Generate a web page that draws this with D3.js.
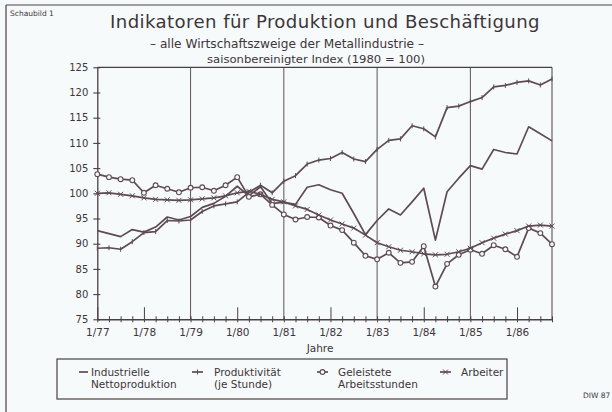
<!DOCTYPE html>
<html>
<head>
<meta charset="utf-8">
<script src="https://cdn.jsdelivr.net/npm/d3@7"></script>
<style>
  body { margin: 0; background: #f7fafb; }
  text { font-family: "DejaVu Sans", sans-serif; fill: #3d3539; }
</style>
</head>
<body>
<svg id="chart"></svg>
<script>
// Quarterly values, 1/77 .. 4/86 (1980 = 100)
const yearLabels = ['1/77', '1/78', '1/79', '1/80', '1/81', '1/82', '1/83', '1/84', '1/85', '1/86'];
const gridYears = ['1/79', '1/81', '1/83', '1/85'];
const yTicks = [75, 80, 85, 90, 95, 100, 105, 110, 115, 120, 125];

const nettoproduktion = [
  92.6, 92.0, 91.4, 92.8, 92.3, 93.3, 95.3, 94.7, 95.4, 97.2,
  98.0, 99.4, 101.4, 99.5, 101.3, 98.0, 98.2, 97.8, 101.2, 101.7,
  100.7, 100.0, 96.0, 91.8, 94.6, 96.9, 95.7, 98.3, 101.0, 90.7,
  100.3, 103.0, 105.5, 104.8, 108.7, 108.1, 107.8, 113.2, 111.8, 110.4,
];
const produktivitaet = [
  89.1, 89.2, 88.9, 90.4, 92.2, 92.4, 94.6, 94.5, 94.7, 96.4,
  97.5, 97.9, 98.3, 100.2, 101.6, 100.1, 102.4, 103.5, 105.8, 106.6,
  106.9, 108.1, 106.8, 106.3, 108.7, 110.5, 110.8, 113.4, 112.8, 111.2,
  117.0, 117.3, 118.2, 119.0, 121.1, 121.4, 122.0, 122.3, 121.5, 122.7,
];
const arbeitsstunden = [
  103.8, 103.2, 102.8, 102.6, 100.1, 101.6, 100.9, 100.2, 101.1, 101.2,
  100.5, 101.6, 103.2, 99.3, 99.8, 97.7, 95.8, 94.8, 95.3, 95.2,
  93.6, 92.7, 90.2, 87.6, 86.9, 88.2, 86.2, 86.4, 89.5, 81.5,
  86.0, 87.8, 88.8, 88.0, 89.7, 88.9, 87.4, 93.1, 92.1, 89.9,
];
const arbeiter = [
  100.0, 100.1, 99.8, 99.5, 99.1, 98.8, 98.7, 98.6, 98.7, 98.9,
  99.1, 99.5, 100.1, 100.4, 99.8, 98.8, 98.3, 97.5, 96.8, 95.7,
  94.7, 93.9, 93.1, 91.7, 90.2, 89.4, 88.7, 88.4, 88.0, 87.8,
  87.9, 88.4, 89.1, 90.2, 91.1, 91.9, 92.6, 93.5, 93.7, 93.5,
];

const ink = '#4a3f44';
const lineCol = '#5e4b52';

const width = 612;
const height = 412;
const plot = { left: 97.3, right: 552, top: 67.3, bottom: 319.3 };

const svg = d3.select('#chart')
  .attr('width', width)
  .attr('height', height)
  .style('display', 'block')
  .style('background', '#f7fafb');

const nQ = nettoproduktion.length;
const x = d3.scaleLinear().domain([0, nQ - 1]).range([plot.left, plot.right]);
const y = d3.scaleLinear().domain([75, 125]).range([plot.bottom, plot.top]);
const yearIdx = (lbl) => yearLabels.indexOf(lbl) * 4;

// outer frame (left + top edges visible in the scan)
svg.append('line').attr('x1', 6).attr('x2', 6).attr('y1', 5).attr('y2', 412)
  .attr('stroke', ink).attr('stroke-width', 1.2);
svg.append('line').attr('x1', 6).attr('x2', 612).attr('y1', 5).attr('y2', 5)
  .attr('stroke', ink).attr('stroke-width', 1.2);

// headings
svg.append('text').attr('x', 10).attr('y', 16).style('font-size', '7.5px').text('Schaubild 1');
svg.append('text').attr('x', 325).attr('y', 28).attr('text-anchor', 'middle')
  .style('font-size', '18px').style('letter-spacing', '0.4px')
  .attr('textLength', 430).attr('lengthAdjust', 'spacingAndGlyphs')
  .text('Indikatoren für Produktion und Beschäftigung');
svg.append('text').attr('x', 287).attr('y', 48).attr('text-anchor', 'middle')
  .style('font-size', '12.5px')
  .attr('textLength', 274).attr('lengthAdjust', 'spacingAndGlyphs')
  .text('– alle Wirtschaftszweige der Metallindustrie –');
svg.append('text').attr('x', 316).attr('y', 63).attr('text-anchor', 'middle')
  .style('font-size', '10px')
  .attr('textLength', 218).attr('lengthAdjust', 'spacingAndGlyphs')
  .text('saisonbereinigter Index (1980 = 100)');

// plot frame: top and right border
svg.append('line').attr('x1', plot.left).attr('x2', plot.right)
  .attr('y1', plot.top).attr('y2', plot.top).attr('stroke', ink).attr('stroke-width', 1.3);
svg.append('line').attr('x1', plot.right).attr('x2', plot.right)
  .attr('y1', plot.top).attr('y2', plot.bottom).attr('stroke', ink).attr('stroke-width', 1);

// vertical grid lines every two years
svg.append('g').selectAll('line').data(gridYears).join('line')
  .attr('x1', (d) => x(yearIdx(d))).attr('x2', (d) => x(yearIdx(d)))
  .attr('y1', plot.top).attr('y2', plot.bottom)
  .attr('stroke', ink).attr('stroke-width', 0.9);

// y axis
const yAxis = d3.axisLeft(y).tickValues(yTicks).tickSize(4).tickSizeOuter(0);
const yAxisG = svg.append('g').attr('transform', `translate(${plot.left},0)`).call(yAxis);
yAxisG.select('.domain').attr('stroke', ink).attr('stroke-width', 1.3);
yAxisG.selectAll('.tick line').attr('x1', 3).attr('stroke', ink).attr('stroke-width', 1.1);
yAxisG.selectAll('.tick text').attr('x', -9).style('font-size', '10px')
  .style('font-family', '"DejaVu Sans", sans-serif').attr('fill', '#3d3539');

// x axis: quarterly ticks, labels every year
const xAxis = d3.axisBottom(x)
  .tickValues(d3.range(nQ))
  .tickSize(3)
  .tickSizeOuter(0)
  .tickFormat((i) => (i % 4 === 0 ? yearLabels[i / 4] : ''));
const xAxisG = svg.append('g').attr('transform', `translate(0,${plot.bottom})`).call(xAxis);
xAxisG.select('.domain').attr('stroke', ink).attr('stroke-width', 1.6);
xAxisG.selectAll('.tick line')
  .attr('y1', (i) => (i % 4 === 0 && !gridYears.includes(yearLabels[i / 4]) ? -12 : -3))
  .attr('stroke', ink).attr('stroke-width', 1);
xAxisG.selectAll('.tick text').attr('y', 9).style('font-size', '10.5px')
  .style('font-family', '"DejaVu Sans", sans-serif').attr('fill', '#3d3539');

svg.append('text').attr('x', 320).attr('y', 352).attr('text-anchor', 'middle')
  .style('font-size', '10.5px').text('Jahre');

// series
const line = d3.line().x((d, i) => x(i)).y((d) => y(d));
const drawLine = (vals) => svg.append('path').datum(vals)
  .attr('d', line).attr('fill', 'none').attr('stroke', lineCol)
  .attr('stroke-width', 1.7).attr('stroke-linejoin', 'round');

drawLine(nettoproduktion);

drawLine(produktivitaet);
svg.append('g').selectAll('line').data(produktivitaet).join('line')
  .attr('x1', (d, i) => x(i)).attr('x2', (d, i) => x(i))
  .attr('y1', (d) => y(d) - 2.5).attr('y2', (d) => y(d) + 2.5)
  .attr('stroke', lineCol).attr('stroke-width', 1);

drawLine(arbeitsstunden);
svg.append('g').selectAll('circle').data(arbeitsstunden).join('circle')
  .attr('cx', (d, i) => x(i)).attr('cy', (d) => y(d)).attr('r', 2.4)
  .attr('fill', '#f7fafb').attr('stroke', lineCol).attr('stroke-width', 1.1);

drawLine(arbeiter);
const cross = (sel, cx, cy, s) => {
  sel.append('path')
    .attr('d', `M${cx - s},${cy - s}L${cx + s},${cy + s}M${cx - s},${cy + s}L${cx + s},${cy - s}`)
    .attr('stroke', lineCol).attr('stroke-width', 1).attr('fill', 'none');
};
const crossG = svg.append('g');
arbeiter.forEach((d, i) => cross(crossG, x(i), y(d), 2.5));

// legend
const lg = svg.append('g');
lg.append('rect').attr('x', 57).attr('y', 359).attr('width', 450).attr('height', 40)
  .attr('fill', 'none').attr('stroke', ink).attr('stroke-width', 1.2);

const legendItems = [
  { sx: 79, tx: 91, lines: ['Industrielle', 'Nettoproduktion'], kind: 'plain' },
  { sx: 192, tx: 214, lines: ['Produktivität', '(je Stunde)'], kind: 'tick' },
  { sx: 317, tx: 338, lines: ['Geleistete', 'Arbeitsstunden'], kind: 'circle' },
  { sx: 440, tx: 461, lines: ['Arbeiter'], kind: 'cross' },
];
legendItems.forEach((it) => {
  const sy = 372;
  const len = it.kind === 'plain' ? 9 : 11;
  lg.append('line').attr('x1', it.sx).attr('x2', it.sx + len).attr('y1', sy).attr('y2', sy)
    .attr('stroke', lineCol).attr('stroke-width', 1.7);
  const mx = it.sx + len / 2;
  if (it.kind === 'tick') {
    lg.append('line').attr('x1', mx).attr('x2', mx).attr('y1', sy - 2.5).attr('y2', sy + 2.5)
      .attr('stroke', lineCol).attr('stroke-width', 1);
  } else if (it.kind === 'circle') {
    lg.append('circle').attr('cx', mx).attr('cy', sy).attr('r', 2.4)
      .attr('fill', '#f7fafb').attr('stroke', lineCol).attr('stroke-width', 1.1);
  } else if (it.kind === 'cross') {
    cross(lg, mx, sy, 2.5);
  }
  it.lines.forEach((t, k) => {
    lg.append('text').attr('x', it.tx).attr('y', 376 + k * 12)
      .style('font-size', '10.5px').text(t);
  });
});

svg.append('text').attr('x', 583).attr('y', 398).style('font-size', '7.5px').text('DIW 87');
</script>
</body>
</html>
